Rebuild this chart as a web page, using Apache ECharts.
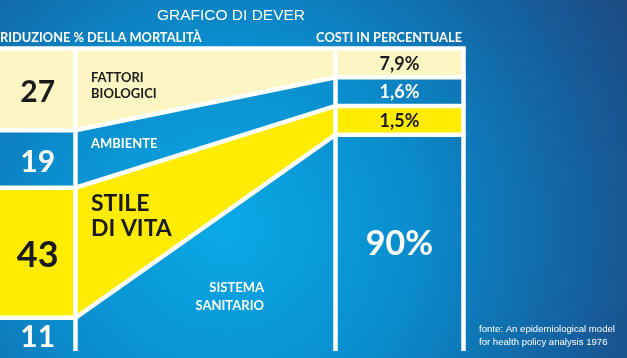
<!DOCTYPE html>
<html>
<head>
<meta charset="utf-8">
<script src="https://cdn.jsdelivr.net/npm/echarts@6/dist/echarts.min.js"></script>
<style>
  html, body { margin: 0; padding: 0; background: #0a80c0; }
  #chart { width: 627px; height: 358px; }
</style>
</head>
<body>
<div id="chart"></div>
<script>
let factorNames = ['FATTORI\nBIOLOGICI', 'AMBIENTE', 'STILE\nDI VITA', 'SISTEMA\nSANITARIO'];
let mortalityShare = [27, 19, 43, 11];
let costShare = [7.9, 1.6, 1.5, 90];

let CREAM = '#fdf6c4';
let YELLOW = '#ffec00';
let INK = '#1a1a1a';
let WHITE = '#ffffff';
let rowFill = [CREAM, null, YELLOW, null];
let rowInk = [INK, WHITE, INK, WHITE];

// column edges on the x axis (1 unit = 1px)
let X_LEFT = -10, X_MID = 75.5, X_RIGHT = 335.5, X_END = 463.5;
// the small cost boxes are not to scale in the original: give them a minimum band
let MIN_BAND = 9.5;
let GAP = 4.5;

// where the factor names sit, in px
let NAME_POS = [
  { x: 91, y: 85.5, align: 'left', size: 13, lh: 16 },
  { x: 91, y: 144, align: 'left', size: 13, lh: 16 },
  { x: 91, y: 216, align: 'left', size: 23, lh: 25 },
  { x: 264, y: 297, align: 'right', size: 13, lh: 17.5 }
];

function cumulate(bands) {
  let acc = 0;
  return bands.map(b => { let s = acc; acc += b; return [s, acc]; });
}

let leftSpans = cumulate(mortalityShare);
let costBands = costShare.map(v => Math.max(v, MIN_BAND));
let excess = costBands.reduce((a, b) => a + b, 0) - 100;
let biggest = costBands.indexOf(Math.max(...costBands));
costBands[biggest] -= excess;
let rightSpans = cumulate(costBands);

let rows = factorNames.map((n, i) => [i, leftSpans[i][0], leftSpans[i][1], rightSpans[i][0], rightSpans[i][1]]);

function pct(v) {
  return String(v).replace('.', ',') + '%';
}

function renderRow(params, api) {
  let i = api.value(0);
  let l0 = api.value(1), l1 = api.value(2), r0 = api.value(3), r1 = api.value(4);
  let p = (x, y) => api.coord([x, y]);
  let children = [];
  let fill = rowFill[i];
  if (fill) {
    let poly = pts => ({ type: 'polygon', shape: { points: pts }, style: { fill: fill } });
    children.push(poly([p(X_LEFT, l0), p(X_MID, l0), p(X_MID, l1), p(X_LEFT, l1)]));
    children.push(poly([p(X_MID, l0), p(X_RIGHT, r0), p(X_RIGHT, r1), p(X_MID, l1)]));
    children.push(poly([p(X_RIGHT, r0), p(X_END, r0), p(X_END, r1), p(X_RIGHT, r1)]));
  }
  let line = pts => ({
    type: 'polyline', z2: 10, shape: { points: pts },
    style: { stroke: WHITE, lineWidth: GAP, fill: null, lineCap: 'square', lineJoin: 'miter' }
  });
  children.push(line([p(X_LEFT, l0), p(X_MID, l0), p(X_RIGHT, r0), p(X_END, r0)]));
  let vline = (x, a, b) => ({
    type: 'line', z2: 10, shape: { x1: p(x, a)[0], y1: p(x, a)[1], x2: p(x, b)[0], y2: p(x, b)[1] },
    style: { stroke: WHITE, lineWidth: GAP, lineCap: 'butt' }
  });
  children.push(vline(X_MID, l0, l1), vline(X_RIGHT, r0, r1), vline(X_END, r0, r1));

  let ink = rowInk[i];
  let leftTop = p(0, l0)[1], leftBot = p(0, l1)[1];
  let rightTop = p(0, r0)[1], rightBot = p(0, r1)[1];
  children.push({
    type: 'text', z2: 20,
    style: {
      text: String(mortalityShare[i]), x: p(X_MID, 0)[0] / 2, y: (leftTop + leftBot) / 2 + 3,
      fill: ink, fontFamily: 'Lato', fontWeight: 'bold', fontSize: leftBot - leftTop > 100 ? 36 : 30,
      align: 'center', verticalAlign: 'middle'
    }
  });
  children.push({
    type: 'text', z2: 20,
    style: {
      text: pct(costShare[i]), x: (p(X_RIGHT, 0)[0] + p(X_END, 0)[0]) / 2, y: (rightTop + rightBot) / 2 + 1,
      fill: ink, fontFamily: 'Lato', fontWeight: 'bold', fontSize: rightBot - rightTop > 100 ? 34 : 18,
      align: 'center', verticalAlign: 'middle'
    }
  });
  let np = NAME_POS[i];
  children.push({
    type: 'text', z2: 20,
    style: {
      text: factorNames[i], x: np.x, y: np.y, fill: ink, fontFamily: 'Lato', fontWeight: 'bold',
      fontSize: np.size, lineHeight: np.lh, align: np.align, verticalAlign: 'middle'
    }
  });
  return { type: 'group', children: children };
}

let chart = echarts.init(document.getElementById('chart'));

let option = {
  animation: false,
  backgroundColor: {
    type: 'radial', x: 0.36, y: 0.64, r: 1.3,
    colorStops: [
      { offset: 0, color: '#09a9e6' },
      { offset: 0.4, color: '#0a8dcd' },
      { offset: 0.75, color: '#1463a2' },
      { offset: 1, color: '#1d4a80' }
    ]
  },
  grid: { left: 0, right: 0, top: 48.5, bottom: 7 },
  xAxis: { type: 'value', min: 0, max: 627, show: false },
  yAxis: { type: 'value', min: 0, max: 100, inverse: true, show: false },
  graphic: [
    {
      type: 'text', x: 231, y: 15.5,
      style: { text: 'GRAFICO DI DEVER', fill: WHITE, fontFamily: 'Liberation Sans', fontSize: 15.5,
        align: 'center', verticalAlign: 'middle' }
    },
    {
      type: 'text', x: 0, y: 37.5,
      style: { text: 'RIDUZIONE % DELLA MORTALITÀ', fill: WHITE, fontFamily: 'Lato', fontWeight: 'bold',
        fontSize: 12.8, align: 'left', verticalAlign: 'middle' }
    },
    {
      type: 'text', x: 462, y: 37.5,
      style: { text: 'COSTI IN PERCENTUALE', fill: WHITE, fontFamily: 'Lato', fontWeight: 'bold',
        fontSize: 12.8, align: 'right', verticalAlign: 'middle' }
    },
    {
      type: 'text', x: 479, y: 336,
      style: { text: 'fonte: An epidemiological model\nfor health policy analysis 1976', fill: WHITE,
        fontFamily: 'Liberation Sans', fontSize: 9.6, lineHeight: 12.5, align: 'left', verticalAlign: 'middle' }
    }
  ],
  series: [{
    type: 'custom',
    renderItem: renderRow,
    data: rows,
    encode: { x: -1, y: [1, 2] },
    clip: false,
    silent: true
  }]
};

chart.setOption(option);
</script>
</body>
</html>
